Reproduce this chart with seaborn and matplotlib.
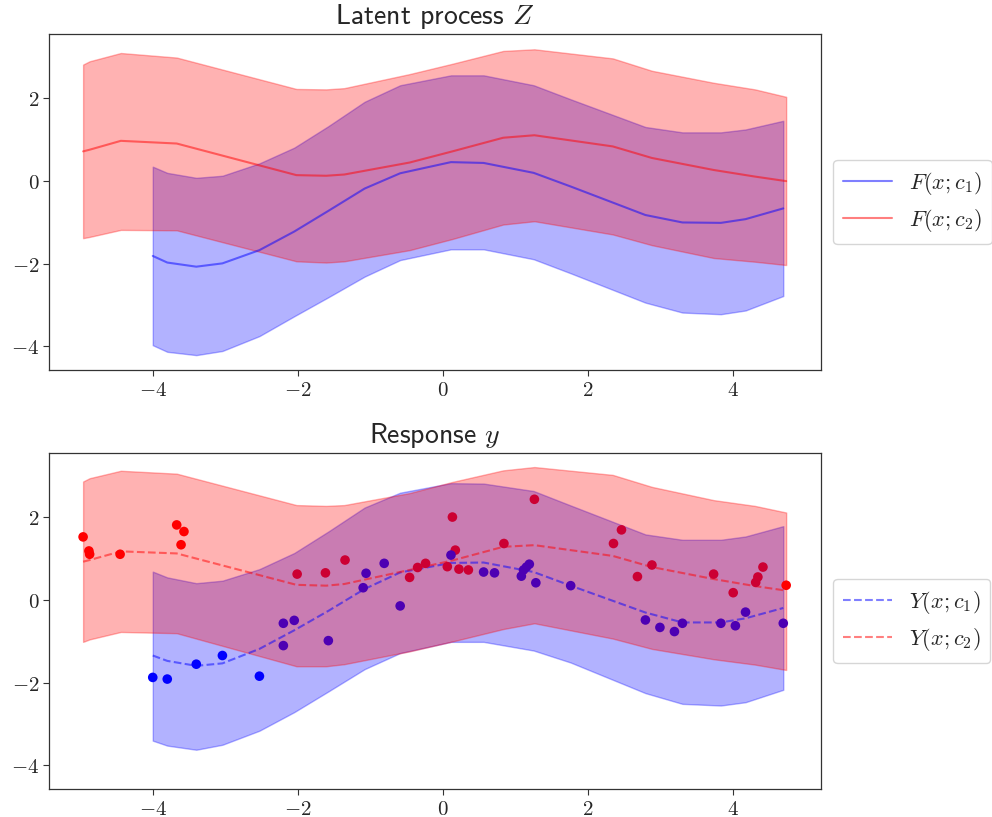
import numpy as np
import pandas as pd
import matplotlib
matplotlib.use("Agg")
import matplotlib.pyplot as plt
import seaborn as sns
from matplotlib.ticker import FuncFormatter, FixedLocator

# ---------------- data ----------------
# latent process, group c2 (red)
xr = [-4.96, -4.87, -4.44, -3.67, -2.02, -1.61, -1.36, -0.46, 0.13, 0.83, 1.26, 2.34, 2.88, 3.73, 4.30, 4.73]
fr_mean = [0.72, 0.76, 0.975, 0.91, 0.145, 0.13, 0.16, 0.45, 0.72, 1.05, 1.11, 0.84, 0.56, 0.27, 0.11, 0.00]
fr_hi = [2.82, 2.90, 3.10, 2.99, 2.23, 2.22, 2.25, 2.59, 2.84, 3.15, 3.19, 2.97, 2.67, 2.38, 2.22, 2.04]
fr_lo = [-1.38, -1.35, -1.18, -1.19, -1.94, -1.97, -1.94, -1.67, -1.40, -1.05, -0.97, -1.29, -1.55, -1.86, -1.95, -2.03]

# latent process, group c1 (blue)
xb = [-4.00, -3.80, -3.40, -3.04, -2.53, -2.05, -1.58, -1.08, -0.59, 0.11, 0.56, 1.25, 1.76, 2.79, 3.30, 3.83, 4.17, 4.69]
fb_mean = [-1.81, -1.97, -2.07, -1.99, -1.67, -1.22, -0.72, -0.18, 0.19, 0.46, 0.44, 0.20, -0.13, -0.82, -1.00, -1.01, -0.92, -0.66]
fb_hi = [0.35, 0.20, 0.08, 0.13, 0.43, 0.81, 1.33, 1.92, 2.32, 2.56, 2.56, 2.32, 1.98, 1.31, 1.18, 1.18, 1.25, 1.46]
fb_lo = [-3.97, -4.13, -4.21, -4.11, -3.75, -3.27, -2.81, -2.31, -1.91, -1.65, -1.65, -1.89, -2.23, -2.94, -3.18, -3.22, -3.13, -2.78]

# response, group c2 (red)
yr_mean = [0.93, 0.97, 1.18, 1.13, 0.37, 0.35, 0.39, 0.73, 0.96, 1.29, 1.33, 1.07, 0.80, 0.51, 0.34, 0.23]
yr_hi = [2.87, 2.95, 3.13, 3.06, 2.30, 2.28, 2.30, 2.59, 2.86, 3.14, 3.22, 3.03, 2.74, 2.42, 2.28, 2.12]
yr_lo = [-1.01, -0.95, -0.77, -0.80, -1.60, -1.60, -1.55, -1.24, -1.00, -0.70, -0.56, -0.93, -1.18, -1.43, -1.56, -1.69]

# response, group c1 (blue)
yb_mean = [-1.34, -1.47, -1.59, -1.53, -1.18, -0.73, -0.26, 0.27, 0.67, 0.90, 0.91, 0.68, 0.35, -0.30, -0.54, -0.54, -0.44, -0.19]
yb_hi = [0.69, 0.55, 0.41, 0.47, 0.75, 1.14, 1.66, 2.24, 2.60, 2.83, 2.82, 2.64, 2.29, 1.59, 1.46, 1.46, 1.54, 1.79]
yb_lo = [-3.40, -3.52, -3.62, -3.50, -3.16, -2.71, -2.21, -1.67, -1.28, -1.01, -1.01, -1.22, -1.51, -2.25, -2.51, -2.55, -2.47, -2.17]

# observations: x, y, membership weight towards c2 (0 = blue, 1 = red)
obs_x = [-4.96, -4.88, -4.87, -4.45, -3.67, -3.57, -3.61,
         -4.00, -3.80, -3.40, -3.04, -2.53,
         -2.20, -2.05, -2.20, -1.58, -1.10, -1.06, -0.81, -0.59,
         -2.01, -1.62, -1.35, -0.46, -0.35, -0.24,
         0.13, 0.17, 0.06, 0.22, 0.35, 0.84, 1.26, 2.35, 2.46, 2.68, 2.88, 3.73, 4.00, 4.31, 4.34, 4.41,
         4.73,
         0.11, 0.56, 0.71, 1.08, 1.11, 1.15, 1.19, 1.28, 1.76, 2.79, 2.99, 3.19, 3.30, 3.83, 4.03, 4.17, 4.69]
obs_y = [1.53, 1.19, 1.11, 1.11, 1.82, 1.66, 1.34,
         -1.87, -1.91, -1.55, -1.34, -1.84,
         -0.56, -0.49, -1.10, -0.98, 0.30, 0.65, 0.89, -0.14,
         0.63, 0.66, 0.97, 0.55, 0.79, 0.89,
         2.01, 1.21, 0.81, 0.75, 0.73, 1.37, 2.44, 1.37, 1.70, 0.57, 0.85, 0.63, 0.18, 0.43, 0.56, 0.80,
         0.36,
         1.09, 0.68, 0.66, 0.58, 0.73, 0.80, 0.87, 0.42, 0.35, -0.48, -0.66, -0.76, -0.56, -0.56, -0.62, -0.29, -0.56]
obs_w = [1.0] * 7 + [0.0] * 5 + [0.3] * 8 + [0.8] * 6 + [0.8] * 16 + [1.0] + [0.3] * 17

# ---------------- style ----------------
sns.set_style("ticks")
plt.rcParams["mathtext.fontset"] = "cm"
plt.rcParams["axes.unicode_minus"] = True
plt.rcParams["xtick.direction"] = "out"
plt.rcParams["ytick.direction"] = "out"

fig = plt.figure(figsize=(9.92, 8.17), dpi=100)
W, H = 992.0, 817.0
ax1 = fig.add_axes([49 / W, 1 - 370 / H, (821 - 49) / W, (370 - 34) / H])
ax2 = fig.add_axes([49 / W, 1 - 789 / H, (821 - 49) / W, (789 - 453) / H])

BLUE = (0, 0, 1)
RED = (1, 0, 0)


def fmt(v, pos):
    if abs(v - round(v)) < 1e-9:
        v = int(round(v))
    return r"$%s$" % v


def style_axis(ax):
    for s in ax.spines.values():
        s.set_visible(True)
        s.set_color("#333333")
        s.set_linewidth(0.9)
    ax.set_xlim(-5.43, 5.21)
    ax.set_ylim(-4.57, 3.56)
    ax.xaxis.set_major_locator(FixedLocator([-4, -2, 0, 2, 4]))
    ax.yaxis.set_major_locator(FixedLocator([-4, -2, 0, 2]))
    ax.xaxis.set_major_formatter(FuncFormatter(fmt))
    ax.yaxis.set_major_formatter(FuncFormatter(fmt))
    ax.tick_params(axis="both", labelsize=15, length=4, width=0.8, color="#333333", pad=3)
    ax.set_xlabel("")
    ax.set_ylabel("")


leg_kw = dict(loc="center left", bbox_to_anchor=(1.0, 0.5), borderaxespad=0.55, fontsize=16,
              frameon=True, handlelength=2.2, borderpad=0.45, labelspacing=0.45,
              handletextpad=0.75)

# ---- top panel: latent process ----
ax1.fill_between(xb, fb_lo, fb_hi, color=BLUE, alpha=0.3, linewidth=1)
ax1.fill_between(xr, fr_lo, fr_hi, color=RED, alpha=0.3, linewidth=1)
df_b = pd.DataFrame({"x": xb, "y": fb_mean})
df_r = pd.DataFrame({"x": xr, "y": fr_mean})
sns.lineplot(data=df_b, x="x", y="y", ax=ax1, color=BLUE, alpha=0.5, linewidth=1.5,
             sort=False, estimator=None, label=r"$F(x;c_1)$")
sns.lineplot(data=df_r, x="x", y="y", ax=ax1, color=RED, alpha=0.5, linewidth=1.5,
             sort=False, estimator=None, label=r"$F(x;c_2)$")
style_axis(ax1)
ax1.set_title("Latent process $Z$", fontsize=20, family="cmss10", pad=7)
ax1.legend(**leg_kw)

# ---- bottom panel: response ----
ax2.fill_between(xb, yb_lo, yb_hi, color=BLUE, alpha=0.3, linewidth=1)
ax2.fill_between(xr, yr_lo, yr_hi, color=RED, alpha=0.3, linewidth=1)
df_yb = pd.DataFrame({"x": xb, "y": yb_mean})
df_yr = pd.DataFrame({"x": xr, "y": yr_mean})
sns.lineplot(data=df_yb, x="x", y="y", ax=ax2, color=BLUE, alpha=0.5, linewidth=1.5,
             linestyle="--", sort=False, estimator=None, label=r"$Y(x;c_1)$")
sns.lineplot(data=df_yr, x="x", y="y", ax=ax2, color=RED, alpha=0.5, linewidth=1.5,
             linestyle="--", sort=False, estimator=None, label=r"$Y(x;c_2)$")
df_obs = pd.DataFrame({"x": obs_x, "y": obs_y, "w": obs_w})
pal = {w: (w, 0.0, 1.0 - w) for w in sorted(set(obs_w))}
sns.scatterplot(data=df_obs, x="x", y="y", hue="w", palette=pal, ax=ax2, s=48,
                linewidth=0, legend=False, zorder=5)
style_axis(ax2)
ax2.set_title("Response $y$", fontsize=20, family="cmss10", pad=7)
ax2.legend(**leg_kw)

fig.savefig("out.png", dpi=100)
